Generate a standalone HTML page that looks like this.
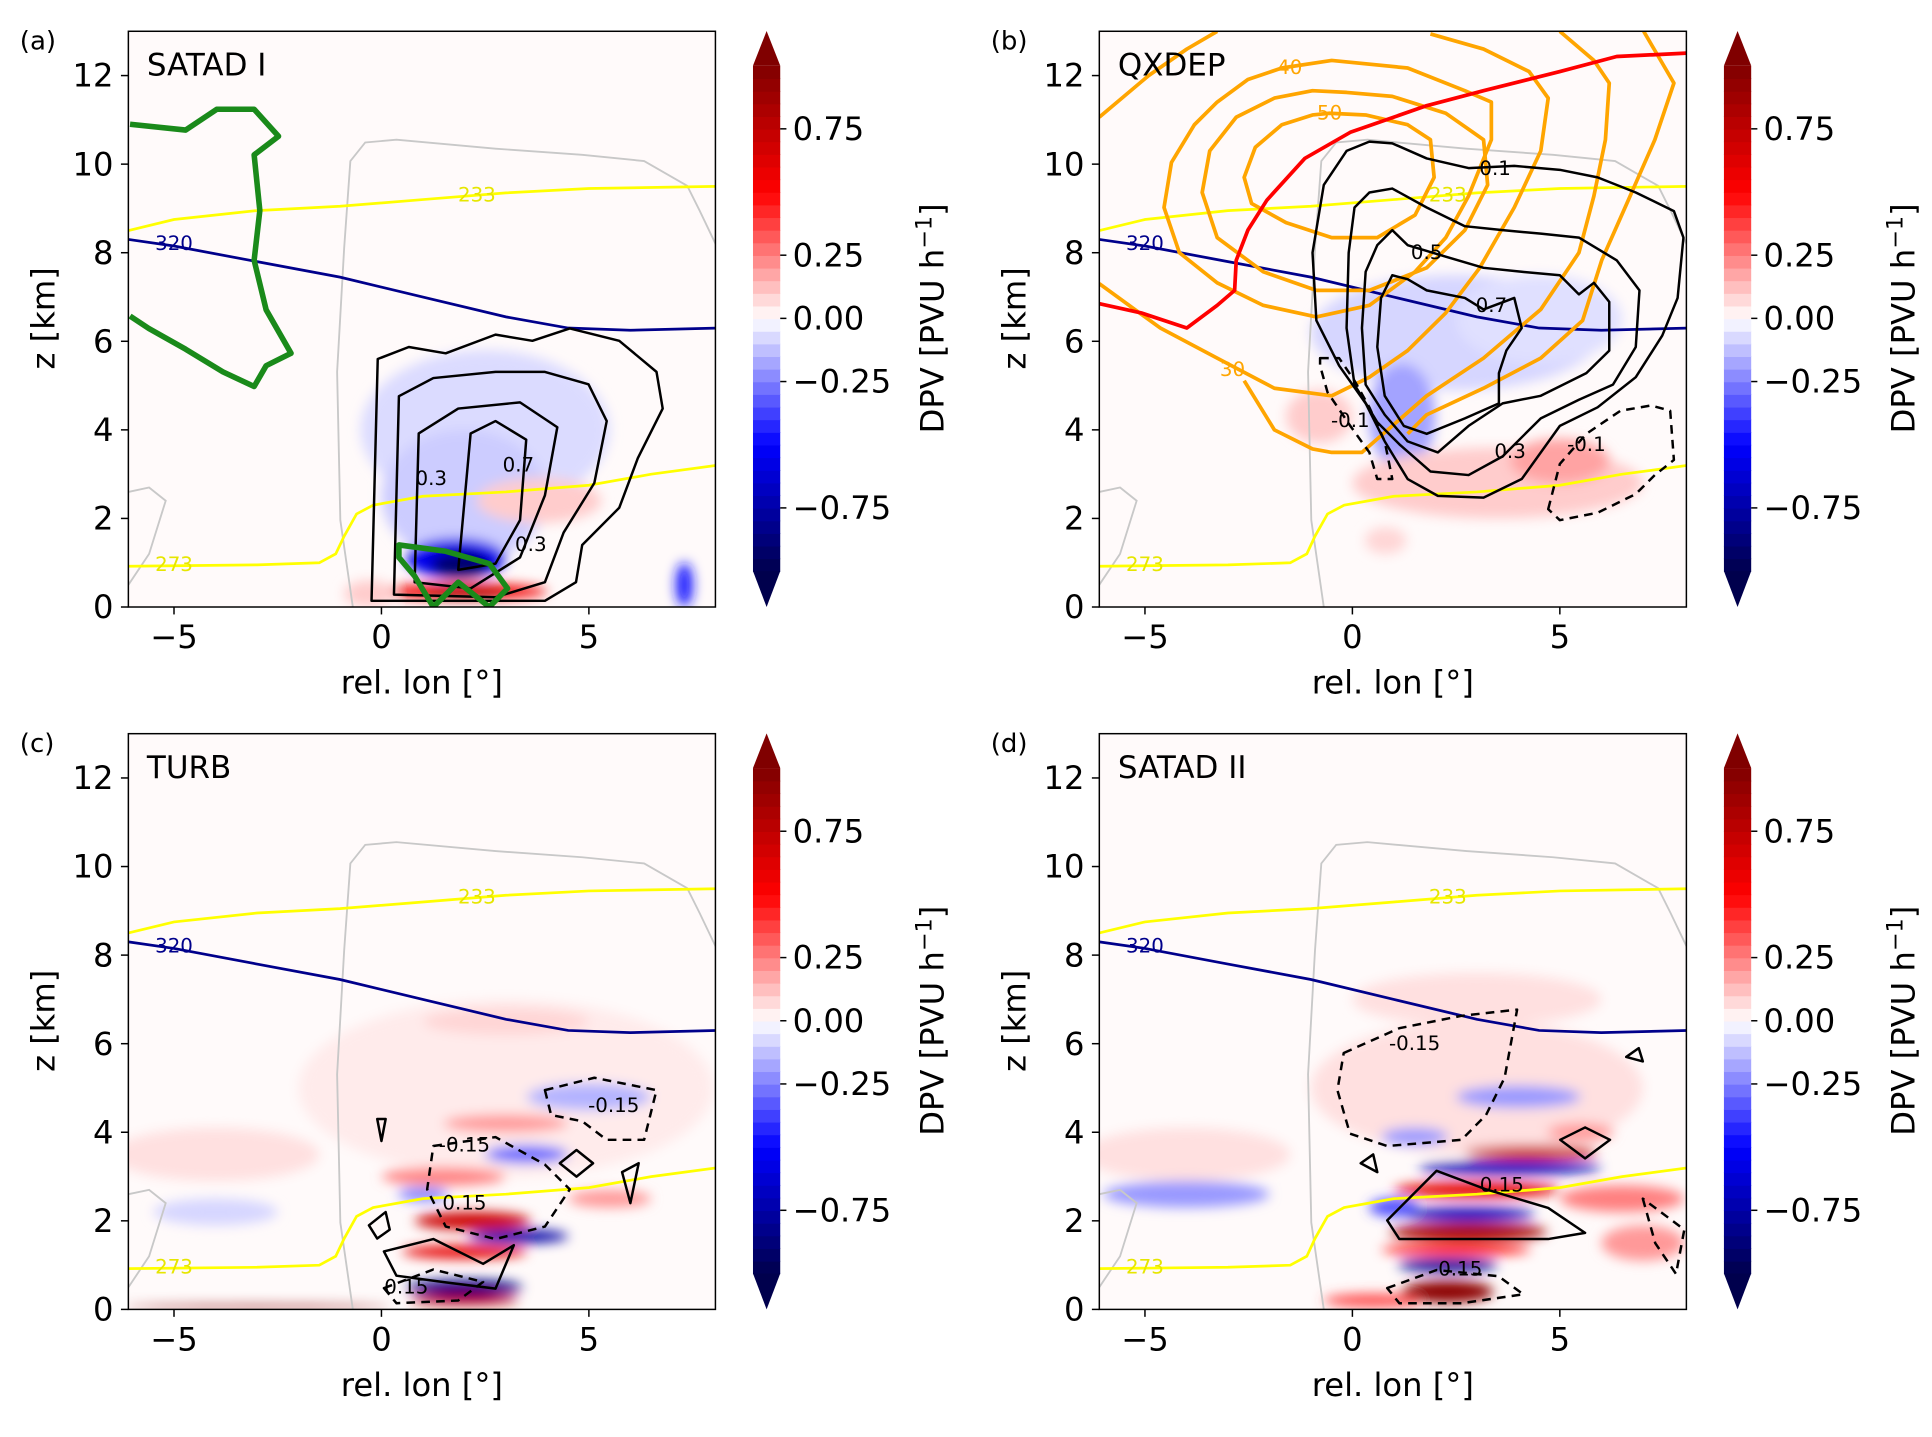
<!DOCTYPE html>
<html><head><meta charset="utf-8"><title>DPV panels</title>
<style>html,body{margin:0;padding:0;background:#fff}svg{display:block}text{font-family:"DejaVu Sans","Liberation Sans",sans-serif}</style></head>
<body>
<svg id="fig" xmlns="http://www.w3.org/2000/svg" width="1932" height="1437" viewBox="0 0 1560 1160" preserveAspectRatio="none">
<defs><filter id="blur" x="-50%" y="-50%" width="200%" height="200%"><feGaussianBlur stdDeviation="5"/></filter></defs>
</svg>
<script>
// ---------- data ----------
const panelTitles = ["SATAD I","QXDEP","TURB","SATAD II"];
const panelLetters = ["(a)","(b)","(c)","(d)"];
const yTicks = [0,2,4,6,8,10,12];
const xTicks = [-5,0,5];
const cbTicks = [0.75,0.25,0.0,-0.25,-0.75];
const cbTickLabels = ["0.75","0.25","0.00","\u22120.25","\u22120.75"];
const line233 = [[-6.1,8.5],[-5,8.75],[-3,8.95],[-1,9.05],[1,9.2],[3,9.35],[5,9.45],[8.1,9.5]];
const line320 = [[-6.1,8.3],[-5,8.15],[-3,7.8],[-1,7.45],[1,7.0],[3,6.55],[4.5,6.3],[6,6.25],[8.1,6.3]];
const line273 = [[-6.1,0.92],[-3,0.95],[-1.5,1.0],[-1.1,1.2],[-0.9,1.6],[-0.6,2.1],[-0.2,2.3],[1,2.5],[3,2.6],[5,2.75],[6.5,3.0],[8.1,3.2]];
const terrain = [[-0.69,0],[-0.99,1.96],[-1.07,5.31],[-0.9,8.11],[-0.75,10.07],[-0.39,10.49],[0.36,10.55],[2.75,10.35],[4.84,10.21],[6.33,10.07],[7.37,9.51],[7.67,8.95],[8.1,8.11]];
const terrain2 = [[-6.1,0.5],[-5.6,1.2],[-5.2,2.4],[-5.6,2.7],[-6.1,2.6]];
// heat blobs: [lon, z, rlon, rz, value]
const heatA = [[2.5,4.0,3.0,1.8,-0.07],[2.0,2.5,2.0,1.5,-0.1],[1.8,1.1,1.2,0.45,-0.55],[1.9,0.95,0.7,0.3,-0.9],[2.0,0.35,2.0,0.18,0.55],[2.0,0.3,1.0,0.1,0.9],[3.8,2.4,1.5,0.5,0.1],[-0.3,0.3,0.6,0.3,0.1],[7.3,0.5,0.2,0.5,-0.45]];
const heatB = [[2.5,6.2,3.5,1.3,-0.08],[1.2,4.3,0.8,1.2,-0.18],[4.5,6.5,2,1,-0.06],[3.5,2.8,3.5,0.8,0.1],[5,3.3,1.2,0.5,0.18],[-0.8,4.3,0.8,0.6,0.1],[0.8,1.5,0.5,0.3,0.08]];
const heatC = [[3,5,5,2,0.04],[-4,3.5,2.5,0.6,0.06],[-4,2.2,1.5,0.3,-0.08],[-3,0.05,3.2,0.04,0.95],[2.2,2.0,1.4,0.2,0.7],[3.3,1.65,1.2,0.15,-0.75],[2.0,1.3,1.5,0.15,0.6],[2.0,0.5,1.4,0.17,-0.85],[2.0,0.22,1.3,0.12,0.8],[1.5,3.0,1.5,0.2,0.25],[3.5,3.5,1,0.2,-0.3],[3,4.2,1.5,0.2,0.2],[1.0,2.6,0.6,0.15,-0.25],[5.5,2.5,1,0.2,0.2],[5,4.8,1.5,0.3,-0.15],[3,6.5,2,0.3,0.08]];
const heatD = [[3,5,4,1.5,0.06],[3,7,3,0.6,0.06],[-4,3.5,2.5,0.6,0.06],[-4,2.6,2,0.3,-0.2],[2.8,1.75,1.9,0.2,0.85],[2.8,2.15,1.6,0.15,-0.7],[3.0,2.7,2.0,0.18,0.6],[3.8,3.2,2.2,0.15,-0.7],[4.3,3.55,1.6,0.15,0.7],[2.3,0.4,1.1,0.25,0.95],[2.3,1.0,1.2,0.15,-0.8],[2.5,1.35,1.8,0.12,0.5],[6.5,2.5,1.5,0.3,0.25],[7,1.5,1,0.4,0.2],[1,2.3,0.6,0.2,-0.35],[0.5,0.2,1.2,0.15,0.35],[4,4.8,1.5,0.25,-0.2],[1.5,3.9,0.8,0.2,-0.2],[5.5,4.0,0.8,0.2,0.2]];
// contours
const greenA1 = [[-6.06,10.9],[-4.72,10.77],[-3.97,11.24],[-3.07,11.24],[-2.48,10.63],[-3.07,10.21],[-2.93,8.95],[-3.07,7.83],[-2.78,6.71],[-2.18,5.73],[-2.78,5.45],[-3.07,4.98],[-3.82,5.31],[-4.72,5.82],[-5.61,6.29],[-6.06,6.57]];
const greenA2 = [[0.42,1.4],[1.55,1.26],[2.6,0.98],[3.04,0.42],[2.6,0],[1.85,0.56],[1.25,0],[0.8,0.7],[0.42,1.12]];
const blackA1 = [[-0.24,0.14],[-0.09,5.6],[0.66,5.87],[1.55,5.73],[2.75,6.15],[3.64,6.01],[4.54,6.29],[5.73,6.01],[6.63,5.31],[6.78,4.48],[6.18,3.36],[5.73,2.24],[4.84,1.4],[4.69,0.56],[3.94,0.14]];
const blackA2 = [[0.3,0.28],[0.42,4.76],[1.25,5.17],[2.75,5.31],[3.94,5.31],[4.99,5.03],[5.43,4.2],[5.13,2.8],[4.39,1.68],[3.94,0.56],[2.75,0.22]];
const blackA3 = [[0.8,0.56],[0.9,3.92],[1.85,4.48],[3.34,4.62],[4.24,4.06],[3.94,2.52],[3.34,1.12],[2.15,0.42]];
const blackA4 = [[1.85,0.84],[2.15,3.92],[2.75,4.2],[3.49,3.78],[3.34,1.96],[2.75,0.98]];
const orangeB1 = [[-0.55,11.15],[0.32,11.11],[1.33,10.89],[1.88,10.55],[1.97,9.70],[1.51,8.85],[0.60,8.34],[-0.50,8.34],[-1.60,8.68],[-2.43,9.11],[-2.61,9.70],[-2.34,10.38],[-1.70,10.89],[-0.96,11.11]];
const orangeB2 = [[-0.14,11.62],[0.96,11.53],[2.25,11.15],[3.16,10.55],[3.26,9.53],[2.71,8.51],[1.79,7.66],[0.41,7.15],[-0.87,7.15],[-2.15,7.57],[-3.26,8.34],[-3.62,9.36],[-3.44,10.30],[-2.80,11.06],[-1.88,11.49],[-0.96,11.66]];
const orangeB3 = [[-2.52,11.91],[-1.70,12.17],[-0.50,12.34],[1.33,12.17],[2.71,11.66],[3.35,11.40],[3.35,10.55],[2.80,9.28],[2.25,8.34],[1.51,7.57],[0.41,6.81],[-0.87,6.55],[-2.15,6.81],[-3.26,7.32],[-4.17,8.0],[-4.54,9.02],[-4.36,10.04],[-3.81,10.89],[-3.26,11.40]];
const orangeB4 = [[1.88,12.94],[3.16,12.6],[4.26,12.09],[4.72,11.49],[4.54,10.30],[3.90,9.02],[3.07,7.66],[2.25,6.64],[1.33,5.79],[0.41,5.19],[-0.50,4.77],[-1.88,4.94],[-3.26,5.62],[-4.63,6.30],[-6.1,7.3]];
const orangeB5 = [[-6.1,11.06],[-4.91,12.0],[-3.99,12.6],[-3.26,13.0]];
const orangeB6 = [[5.0,13.0],[5.82,12.34],[6.19,11.83],[6.1,10.55],[5.82,9.28],[5.46,8.0],[4.54,6.72],[3.16,5.62],[1.79,4.77],[0.96,4.09],[0.23,3.49],[-0.50,3.49],[-0.96,3.57],[-1.88,4.0],[-2.61,5.11]];
const orangeB7 = [[7.02,13.0],[7.75,11.83],[7.29,10.55],[6.65,9.19],[6.01,7.83],[5.55,6.47],[4.54,5.62],[3.16,4.94],[1.79,4.34],[1.33,3.91]];
const redB = [[-6.1,6.85],[-5.09,6.64],[-3.99,6.30],[-3.26,6.81],[-2.84,7.15],[-2.80,7.83],[-2.52,8.51],[-2.06,9.19],[-1.15,10.13],[-0.05,10.72],[1.79,11.32],[3.16,11.66],[5.0,12.09],[6.37,12.43],[8.1,12.51]];
const blackB1 = [[0.41,10.51],[0.96,10.47],[1.79,10.13],[2.80,9.91],[3.90,9.96],[5.0,9.87],[5.91,9.70],[6.83,9.36],[7.75,8.94],[7.98,8.34],[7.84,6.98],[7.47,6.13],[6.83,5.19],[5.91,4.51],[5.0,4.09],[4.08,2.89],[3.16,2.47],[2.06,2.51],[1.33,2.89],[0.78,3.74],[0.32,4.60],[-0.32,5.45],[-0.87,6.47],[-0.96,8.0],[-0.69,9.53],[-0.14,10.30]];
const blackB2 = [[0.41,9.36],[0.96,9.45],[1.79,9.02],[2.71,8.60],[3.62,8.51],[4.54,8.43],[5.46,8.34],[6.37,7.83],[6.92,7.15],[6.83,5.87],[6.28,5.02],[5.46,4.68],[4.54,4.26],[3.62,3.40],[2.80,2.98],[1.88,3.06],[1.15,3.66],[0.60,4.17],[0.05,5.02],[-0.14,6.30],[-0.09,8.0],[0.05,9.02]];
const blackB3 = [[0.96,8.51],[1.33,8.17],[2.25,7.91],[3.16,7.66],[4.08,7.57],[5.0,7.49],[5.46,7.06],[5.82,7.32],[6.19,6.89],[6.19,5.79],[5.64,5.28],[4.54,4.77],[3.62,4.60],[2.80,4.09],[2.06,3.49],[1.33,3.74],[0.78,4.34],[0.32,5.02],[0.23,6.30],[0.32,7.57],[0.60,8.17]];
const blackB4 = [[0.96,7.49],[1.33,7.40],[1.79,7.15],[2.71,6.98],[3.16,6.72],[3.90,6.98],[4.08,6.30],[3.71,5.79],[3.53,5.28],[3.53,4.60],[2.71,4.26],[1.79,3.91],[1.24,4.09],[0.78,4.77],[0.60,5.87],[0.69,6.98]];
const dashB1 = [[-0.78,5.62],[-0.32,5.62],[0.05,5.11],[0.41,4.51],[0.78,3.74],[0.96,2.89],[0.60,2.89],[0.41,3.49],[-0.05,4.09],[-0.60,4.85],[-0.78,5.45]];
const dashB2 = [[4.72,2.21],[5.0,3.23],[5.64,3.91],[6.46,4.43],[7.20,4.55],[7.66,4.43],[7.75,3.32],[7.29,2.98],[6.83,2.55],[5.91,2.13],[5.0,1.96]];
const dashC1 = [[1.25,3.69],[2.75,3.89],[3.94,3.27],[4.54,2.71],[3.94,1.87],[2.75,1.59],[1.55,1.87],[1.1,2.71]];
const dashC2 = [[3.94,4.95],[5.13,5.23],[6.63,4.95],[6.33,3.83],[5.43,3.83],[4.84,4.25],[4.09,4.39]];
const dashC3 = [[0.06,0.48],[1.25,0.9],[2.45,0.62],[1.85,0.2],[0.36,0.14]];
const solidC1 = [[0.06,1.31],[1.25,1.59],[2.45,1.03],[3.19,1.45],[2.75,0.47],[1.55,0.61],[0.36,0.76]];
const solidC2 = [[4.3,3.3],[4.7,3.6],[5.1,3.3],[4.7,3.0]];
const solidC3 = [[5.8,3.1],[6.2,3.3],[6.0,2.4]];
const solidC4 = [[-0.1,4.3],[0.0,3.8],[0.1,4.3]];
const solidC5 = [[-0.3,1.9],[0.1,2.2],[0.2,1.8],[-0.1,1.6]];
const dashD1 = [[-0.21,5.79],[1.13,6.35],[2.63,6.63],[3.97,6.77],[3.67,5.23],[3.22,4.39],[2.63,3.83],[0.84,3.69],[-0.06,3.97],[-0.36,4.95]];
const solidD1 = [[0.84,2.01],[2.03,3.13],[3.22,2.71],[4.72,2.29],[5.61,1.73],[4.72,1.59],[3.22,1.59],[1.13,1.59]];
const dashD2 = [[0.84,0.48],[2.03,0.89],[3.52,0.75],[4.12,0.34],[2.63,0.14],[1.13,0.14]];
const solidD2 = [[5.01,3.83],[5.61,4.11],[6.21,3.83],[5.61,3.41]];
const solidD3 = [[6.6,5.7],[6.9,5.9],[7.0,5.6]];
const solidD4 = [[0.2,3.3],[0.5,3.5],[0.6,3.1]];
const dashD3 = [[7.0,2.5],[7.3,1.5],[7.8,0.8],[8.0,1.8]];
const contoursA = [[greenA1,"#1a8a1a",4.5,false,false],[blackA1,"#000",2,false,true],[blackA2,"#000",2,false,true],[blackA3,"#000",2,false,true],[blackA4,"#000",2,false,true],[greenA2,"#1a8a1a",4.5,false,true]];
const contoursB = [[orangeB1,"#ffa500",3,false,true],[orangeB2,"#ffa500",3,false,true],[orangeB3,"#ffa500",3,false,true],[orangeB4,"#ffa500",3,false,false],[orangeB5,"#ffa500",3,false,false],[orangeB6,"#ffa500",3,false,false],[orangeB7,"#ffa500",3,false,false],[redB,"#ff0000",3,false,false],[blackB1,"#000",2,false,true],[blackB2,"#000",2,false,true],[blackB3,"#000",2,false,true],[blackB4,"#000",2,false,true],[dashB1,"#000",2,true,true],[dashB2,"#000",2,true,true]];
const contoursC = [[dashC1,"#000",2,true,true],[dashC2,"#000",2,true,true],[dashC3,"#000",2,true,true],[solidC1,"#000",2,false,true],[solidC2,"#000",2,false,true],[solidC3,"#000",2,false,true],[solidC4,"#000",2,false,true],[solidC5,"#000",2,false,true]];
const contoursD = [[dashD1,"#000",2,true,true],[solidD1,"#000",2,false,true],[dashD2,"#000",2,true,true],[solidD2,"#000",2,false,true],[solidD3,"#000",2,false,true],[solidD4,"#000",2,false,true],[dashD3,"#000",2,true,true]];
const labelsA = [["0.7",3.3,3.2,"#000"],["0.3",1.2,2.9,"#000"],["0.3",3.6,1.4,"#000"]];
const labelsB = [["0.1",3.44,9.9,"#000"],["0.5",1.79,8.0,"#000"],["0.7",3.35,6.8,"#000"],["0.3",3.8,3.5,"#000"],["-0.1",-0.05,4.2,"#000"],["-0.1",5.64,3.66,"#000"],["30",-2.89,5.36,"#ffa500"],["40",-1.51,12.17,"#ffa500"],["50",-0.55,11.15,"#ffa500"]];
const labelsC = [["-0.15",2.0,3.7,"#000"],["0.15",2.0,2.4,"#000"],["-0.15",5.6,4.6,"#000"],["0.15",0.6,0.5,"#000"]];
const labelsD = [["-0.15",1.5,6.0,"#000"],["0.15",3.6,2.8,"#000"],["0.15",2.6,0.9,"#000"]];
const heats = [heatA,heatB,heatC,heatD];
const contours = [contoursA,contoursB,contoursC,contoursD];
const labels = [labelsA,labelsB,labelsC,labelsD];
// ---------- drawing ----------
const NS = "http://www.w3.org/2000/svg";
const svg = document.getElementById("fig");
function mk(tag, attrs, parent){const e=document.createElementNS(NS,tag);for(const k in attrs)e.setAttribute(k,attrs[k]);(parent||svg).appendChild(e);return e;}
function cmap(v){v=Math.max(-1,Math.min(1,v));let r,g,b;
 if(v<-0.5){const t=(v+1)/0.5;r=0;g=0;b=0.3+0.7*t;}
 else if(v<0){const t=(v+0.5)/0.5;r=t;g=t;b=1;}
 else if(v<0.5){const t=v/0.5;r=1;g=1-t;b=1-t;}
 else {const t=(v-0.5)/0.5;r=1-0.5*t;g=0;b=0;}
 return "rgb("+Math.round(r*255)+","+Math.round(g*255)+","+Math.round(b*255)+")";}
const LON0=-6.1, LON1=8.05, Z0=0, Z1=13.0;
const offs=[[0,0],[784,0],[0,567],[784,567]];
for(let p=0;p<4;p++){
 const ox=offs[p][0], oy=offs[p][1];
 const xS=lon=>308+ox+33.5*lon;
 const yS=z=>490+oy-35.75*z;
 const L=xS(LON0), R=xS(LON1), T=yS(Z1), B=yS(Z0);
 const g=mk("g",{});
 
 
 const cp=mk("clipPath",{id:"clip"+p},g); mk("rect",{x:L,y:T,width:R-L,height:B-T},cp);
 const bg=mk("rect",{x:L,y:T,width:R-L,height:B-T,fill:"#fffafa"},g);
 
 
 const inner=mk("g",{"clip-path":"url(#clip"+p+")"},g);
 const hg=mk("g",{filter:"url(#blur)"},inner);
 heats[p].forEach(h=>{const e=mk("ellipse",{cx:xS(h[0]),cy:yS(h[1]),rx:33.5*h[2],ry:35.75*h[3],fill:cmap(h[4])},hg);
  
  });
 const path=(pts,closed)=>pts.map((q,i)=>(i?"L":"M")+xS(q[0]).toFixed(1)+","+yS(q[1]).toFixed(1)).join("")+(closed?"Z":"");
 [[terrain,"#c8c8c8",1.5],[terrain2,"#c8c8c8",1.5]].forEach(t=>{const e=mk("path",{d:path(t[0],false),fill:"none",stroke:t[1],"stroke-width":t[2]},inner);
  
  });
 const iso=[[line233,"#ffff00","isotherm-233"],[line320,"#00008b","isentrope-320"],[line273,"#ffff00","isotherm-273"]];
 iso.forEach(t=>{const e=mk("path",{d:path(t[0],false),fill:"none",stroke:t[1],"stroke-width":2.2},inner);
  
  });
 contours[p].forEach(c=>{const a={d:path(c[0],c[4]),fill:"none",stroke:c[1],"stroke-width":c[2],"stroke-linejoin":"round"};if(c[3])a["stroke-dasharray"]="7,5";
  const e=mk("path",a,inner);
  
  });
 const isoL=[["233",2.3,9.3,"#e6e600"],["320",-5.0,8.2,"#00008b"],["273",-5.0,0.95,"#e6e600"]];
 isoL.concat(labels[p]).forEach(l=>{const e=mk("text",{x:xS(l[1]),y:yS(l[2])+5,fill:l[3],"font-size":16,"text-anchor":"middle"},inner);e.textContent=l[0];
  
  });
 const fr=mk("rect",{x:L,y:T,width:R-L,height:B-T,fill:"none",stroke:"#000","stroke-width":1.2},g);
 
 
 yTicks.forEach(v=>{mk("line",{x1:L-6,x2:L,y1:yS(v),y2:yS(v),stroke:"#000","stroke-width":1.2},g);
  const t=mk("text",{x:L-12,y:yS(v)+9,"font-size":26,"text-anchor":"end"},g);t.textContent=v;
  
  });
 xTicks.forEach(v=>{mk("line",{x1:xS(v),x2:xS(v),y1:B,y2:B+6,stroke:"#000","stroke-width":1.2},g);
  const t=mk("text",{x:xS(v),y:B+33,"font-size":26,"text-anchor":"middle"},g);t.textContent=v<0?"\u2212"+(-v):v;
  
  });
 const xl=mk("text",{x:(L+R)/2,y:B+70,"font-size":26,"text-anchor":"middle"},g);xl.textContent="rel. lon [\u00b0]";
 
 
 const yl=mk("text",{x:0,y:0,"font-size":26,"text-anchor":"middle",transform:"translate("+(ox+44)+","+(oy+257)+") rotate(-90)"},g);yl.textContent="z [km]";
 
 
 const pl=mk("text",{x:ox+16,y:oy+40,"font-size":21},g);pl.textContent=panelLetters[p];
 
 
 const tt=mk("text",{x:L+15,y:oy+61,"font-size":25},g);tt.textContent=panelTitles[p];
 
 
 const cbx=608+ox, cbw=22, cy=v=>oy+257-204*v;
 const cb=mk("g",{},g);
 
 
 const N=40;
 for(let i=0;i<N;i++){const v0=-1+2*i/N, v1=-1+2*(i+1)/N;
  mk("rect",{x:cbx,y:cy(v1),width:cbw,height:cy(v0)-cy(v1)+0.6,fill:cmap((v0+v1)/2)},cb);}
 mk("path",{d:"M"+cbx+","+cy(1)+"L"+(cbx+cbw/2)+","+(oy+25)+"L"+(cbx+cbw)+","+cy(1)+"Z",fill:cmap(1)},cb);
 mk("path",{d:"M"+cbx+","+cy(-1)+"L"+(cbx+cbw/2)+","+(oy+490)+"L"+(cbx+cbw)+","+cy(-1)+"Z",fill:cmap(-1)},cb);
 cbTicks.forEach((v,i)=>{mk("line",{x1:cbx+cbw,x2:cbx+cbw+5,y1:cy(v),y2:cy(v),stroke:"#000","stroke-width":1.2},cb);
  const t=mk("text",{x:cbx+cbw+10,y:cy(v)+9,"font-size":26},cb);t.textContent=cbTickLabels[i];
  
  });
 const cl=mk("text",{x:0,y:0,"font-size":26,"text-anchor":"middle",transform:"translate("+(ox+762)+","+(oy+257)+") rotate(-90)"},cb);
 cl.innerHTML='DPV [PVU h<tspan dy="-10" font-size="18">\u22121</tspan><tspan dy="10">]</tspan>';
 
 
}
</script>
</body></html>
